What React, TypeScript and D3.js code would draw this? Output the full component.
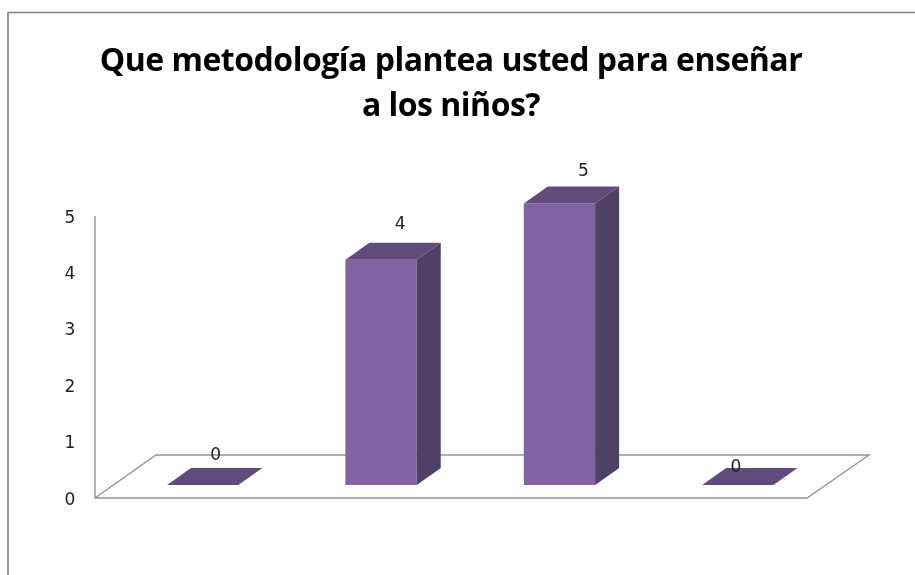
import React, { useEffect, useRef } from "react";
import * as d3 from "d3";

const categories = ["1", "2", "3", "4"];
const values = [0, 4, 5, 0];
const yTicks = [0, 1, 2, 3, 4, 5];
const titleLines = ["Que metodología plantea usted para enseñar", "a los niños?"];

const width = 915;
const height = 575;
const depthX = 24;
const depthY = 17;

// hand placed data labels, the source chart nudged them off the bar centre
const labelDx = [13, 19, 24, -2];
const labelDy = [-32, -37, -34, -20];

const App = (): JSX.Element => {
  const ref = useRef<SVGSVGElement>(null);

  useEffect(() => {
    const svg = d3.select(ref.current);
    svg.selectAll("*").remove();

    // the reference is a slightly soft screenshot
    svg
      .append("filter")
      .attr("id", "soft")
      .append("feGaussianBlur")
      .attr("stdDeviation", 0.4);
    const root = svg.append("g").attr("filter", "url(#soft)");

    const x = d3
      .scaleBand()
      .domain(categories)
      .range([113.5, 827])
      .paddingInner(0.6)
      .paddingOuter(0.3);
    const y = d3.scaleLinear().domain([0, 5]).range([485, 203.5]);
    const yAxisScale = d3.scaleLinear().domain([0, 5]).range([498, 216]);

    // chart border, cut off by the page on the right and bottom
    root
      .append("path")
      .attr("d", `M8,${height + 5}V12.5H${width + 5}`)
      .attr("fill", "none")
      .attr("stroke", "#808080")
      .attr("stroke-width", 1.6);

    const title = root
      .append("text")
      .attr("text-anchor", "middle")
      .attr("font-family", "'Open Sans'")
      .attr("font-weight", 700)
      .attr("font-size", 32)
      .attr("letter-spacing", -0.5)
      .attr("fill", "#000");
    titleLines.forEach((line, i) => {
      title
        .append("tspan")
        .attr("x", 451)
        .attr("y", 71 + i * 45)
        .text(line);
    });

    // floor and wall lines
    const y0 = yAxisScale(0);
    root
      .append("path")
      .attr("d", `M95,${yAxisScale(5)}V${y0}H807L869,455H156L95,${y0}`)
      .attr("fill", "none")
      .attr("stroke", "#949494")
      .attr("stroke-width", 1.4);

    root
      .append("g")
      .selectAll("text")
      .data(yTicks)
      .join("text")
      .attr("x", 70)
      .attr("y", (d) => yAxisScale(d) + 6.5)
      .attr("text-anchor", "middle")
      .attr("font-family", "'DejaVu Sans'")
      .attr("font-size", 17)
      .attr("fill", "#222")
      .text((d) => d);

    const bars = root
      .append("g")
      .selectAll("g")
      .data(values)
      .join("g");

    // front
    bars
      .append("rect")
      .attr("x", (_, i) => x(categories[i]) as number)
      .attr("y", (d) => y(d))
      .attr("width", x.bandwidth())
      .attr("height", (d) => y(0) - y(d))
      .attr("fill", "#8064a0");

    // side
    bars
      .append("path")
      .attr("d", (d, i) => {
        const r = (x(categories[i]) as number) + x.bandwidth();
        return `M${r},${y(d)}l${depthX},${-depthY}V${y(0) - depthY}l${-depthX},${depthY}Z`;
      })
      .attr("fill", "#503f66");

    // top
    bars
      .append("path")
      .attr("d", (d, i) => {
        const l = x(categories[i]) as number;
        return `M${l},${y(d)}l${depthX},${-depthY}h${x.bandwidth()}l${-depthX},${depthY}Z`;
      })
      .attr("fill", "#604b7a");

    root
      .append("g")
      .selectAll("text")
      .data(values)
      .join("text")
      .attr(
        "x",
        (_, i) => (x(categories[i]) as number) + x.bandwidth() / 2 + labelDx[i]
      )
      .attr("y", (d, i) => y(d) + labelDy[i] + 6.5)
      .attr("text-anchor", "middle")
      .attr("font-family", "'DejaVu Sans'")
      .attr("font-size", 17)
      .attr("fill", "#222")
      .text((d) => d);
  });

  return (
    <svg
      ref={ref}
      width={width}
      height={height}
      style={{ position: "absolute", left: 0, top: 0, background: "#fff" }}
    />
  );
};

export default App;
